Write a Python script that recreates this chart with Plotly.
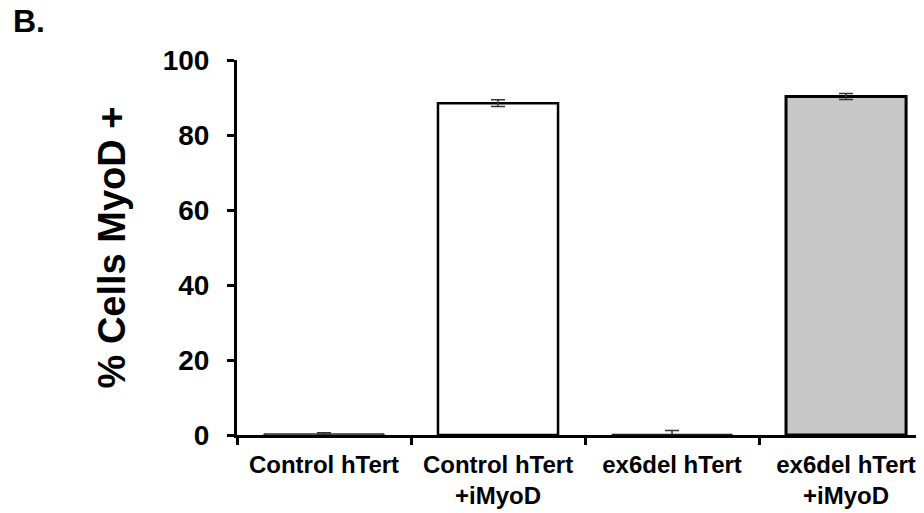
import plotly.graph_objects as go

categories = ["Control hTert", "Control hTert<br>+iMyoD", "ex6del hTert", "ex6del hTert<br>+iMyoD"]
values = [0.3, 88.5, 0.2, 90.3]
errors = [0.3, 0.9, 1.0, 0.8]
fills = ["white", "white", "white", "#c8c8c8"]
outline_widths = [1, 2.5, 1, 3]

positions = list(range(len(categories)))

fig = go.Figure()
fig.add_trace(go.Bar(
    x=positions, y=values, width=0.69,
    marker=dict(color=fills, line=dict(color="black", width=outline_widths)),
    error_y=dict(type="data", array=errors, visible=True, color="#333333", thickness=1.5, width=7),
))

font = "Liberation Sans, Arial, sans-serif"
fig.update_layout(
    width=916, height=505,
    margin=dict(l=229, r=0, t=52, b=78, autoexpand=False),
    plot_bgcolor="white", paper_bgcolor="white",
    showlegend=False,
    font=dict(family=font, color="black"),
    xaxis=dict(
        range=[-0.5, 3.448], tickvals=positions, ticktext=categories,
        ticks="", showline=True, linecolor="black", linewidth=3,
        tickfont=dict(size=24, weight="bold", family=font), showgrid=False, zeroline=False,
        minor=dict(tick0=-0.5, dtick=1, ticks="outside", ticklen=7, tickwidth=3, tickcolor="black"),
        ticklabelstandoff=6,
        automargin=False,
    ),
    yaxis=dict(
        range=[0, 100], tickvals=[0, 20, 40, 60, 80, 100],
        ticks="outside", ticklen=7, tickwidth=3, tickcolor="black",
        showline=True, linecolor="black", linewidth=3,
        tickfont=dict(size=28, weight="bold", family=font), showgrid=False, zeroline=False,
        ticklabelstandoff=12,
        title=dict(text="% Cells MyoD +", font=dict(size=38, weight="bold", family=font), standoff=26),
        automargin=False,
    ),
)
fig.layout.annotations = [dict(text="<b>B.</b>", x=-0.327, y=1.155, xref="paper", yref="paper",
                               xanchor="left", yanchor="top", showarrow=False, borderpad=0,
                               font=dict(size=32, family=font))]
fig.write_html("out.html")
